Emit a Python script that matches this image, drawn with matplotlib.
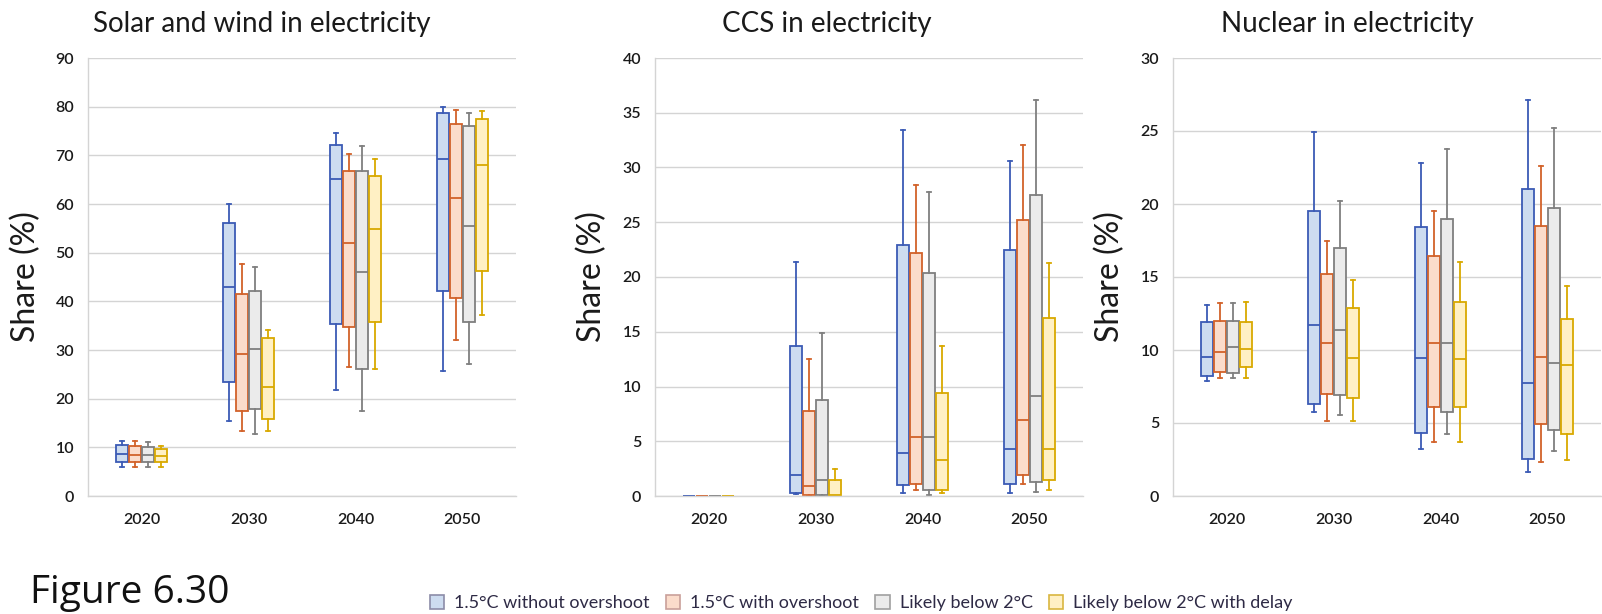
import numpy as np
import matplotlib
matplotlib.use('Agg')
import matplotlib.pyplot as plt
from matplotlib.patches import Patch

plt.rcParams['font.family'] = ['Lato', 'DejaVu Sans']

years = ['2020', '2030', '2040', '2050']
scenarios = ['1.5°C without overshoot', '1.5°C with overshoot',
             'Likely below 2°C', 'Likely below 2°C with delay']

# rows per year: [whisker low, q1, median, q3, whisker high]
solar_no_os = [[5.9, 6.9, 8.7, 10.4, 11.4], [15.4, 23.4, 43.0, 56.0, 60.1],
               [21.8, 35.4, 65.1, 72.2, 74.6], [25.6, 42.1, 69.3, 78.8, 80.0]]
solar_os = [[5.9, 7.0, 8.4, 10.2, 11.3], [13.4, 17.5, 29.2, 41.5, 47.7],
            [26.5, 34.8, 51.9, 66.7, 70.3], [32.1, 40.6, 61.3, 76.4, 79.4]]
solar_2c = [[5.9, 7.0, 8.4, 10.0, 11.0], [12.7, 17.9, 30.2, 42.1, 47.1],
            [17.5, 26.0, 46.1, 66.7, 72.0], [27.2, 35.7, 55.4, 76.1, 78.8]]
solar_delay = [[5.9, 6.9, 8.2, 9.6, 10.3], [13.4, 15.8, 22.4, 32.4, 34.1],
               [26.0, 35.7, 54.8, 65.8, 69.3], [37.1, 46.3, 68.0, 77.4, 79.2]]

ccs_no_os = [[0, 0, 0, 0, 0], [0.2, 0.25, 1.9, 13.7, 21.4],
             [0.25, 1.0, 3.9, 22.9, 33.4], [0.25, 1.1, 4.3, 22.5, 30.6]]
ccs_os = [[0, 0, 0, 0, 0], [0.0, 0.05, 0.9, 7.8, 12.5],
          [0.55, 1.1, 5.35, 22.2, 28.4], [1.1, 1.9, 6.9, 25.2, 32.1]]
ccs_2c = [[0, 0, 0, 0, 0], [0.0, 0.05, 1.45, 8.8, 14.9],
          [0.1, 0.55, 5.35, 20.4, 27.8], [0.4, 1.3, 9.1, 27.5, 36.2]]
ccs_delay = [[0, 0, 0, 0, 0], [0.0, 0.0, 0.05, 1.5, 2.5],
             [0.25, 0.55, 3.3, 9.4, 13.7], [0.55, 1.45, 4.3, 16.3, 21.3]]

nuc_no_os = [[7.9, 8.25, 9.5, 11.9, 13.1], [5.75, 6.3, 11.7, 19.5, 24.95],
             [3.25, 4.3, 9.45, 18.4, 22.8], [1.65, 2.55, 7.75, 21.0, 27.1]]
nuc_os = [[8.1, 8.5, 9.85, 12.0, 13.2], [5.15, 7.0, 10.5, 15.2, 17.5],
          [3.7, 6.1, 10.5, 16.45, 19.5], [2.3, 4.9, 9.5, 18.5, 22.6]]
nuc_2c = [[8.1, 8.45, 10.2, 12.0, 13.2], [5.55, 6.95, 11.35, 17.0, 20.2],
          [4.25, 5.75, 10.5, 19.0, 23.75], [3.05, 4.5, 9.1, 19.75, 25.2]]
nuc_delay = [[8.1, 8.85, 10.1, 11.9, 13.3], [5.15, 6.7, 9.45, 12.9, 14.8],
             [3.7, 6.1, 9.35, 13.3, 16.0], [2.5, 4.25, 9.0, 12.1, 14.4]]

panels = [
    ('Solar and wind in electricity', [solar_no_os, solar_os, solar_2c, solar_delay], 90, 10),
    ('CCS in electricity', [ccs_no_os, ccs_os, ccs_2c, ccs_delay], 40, 5),
    ('Nuclear in electricity', [nuc_no_os, nuc_os, nuc_2c, nuc_delay], 30, 5),
]

edge_colors = ['#3b5bb5', '#d2622a', '#7f7f7f', '#d9a900']
fill_colors = ['#cddcf0', '#fbdccb', '#ebebeb', '#fff0c4']
legend_edges = ['#8c8ca8', '#c9a09a', '#a0a0a0', '#d9b640']
offsets = [-0.18, -0.06, 0.06, 0.18]

W, H = 1602, 614
fig = plt.figure(figsize=(W / 100, H / 100), dpi=100)

ax_left = [88, 655, 1173]
title_x = [93, 722, 1221]
ylab_x = [26, 592, 1110]
top, bottom = 58, 496


def to_stats(rows):
    return [dict(whislo=r[0], q1=r[1], med=r[2], q3=r[3], whishi=r[4], fliers=[])
            for r in rows]


for i, (title, series, ymax, step) in enumerate(panels):
    ax = fig.add_axes([ax_left[i] / W, 1 - bottom / H, 428 / W, (bottom - top) / H])
    for s, rows in enumerate(series):
        ec = edge_colors[s]
        ax.bxp(to_stats(rows), positions=np.arange(4) + offsets[s], widths=0.115,
               patch_artist=True, showfliers=False, capwidths=0.04,
               boxprops=dict(facecolor=fill_colors[s], edgecolor=ec, linewidth=1.3),
               whiskerprops=dict(color=ec, linewidth=1.3),
               capprops=dict(color=ec, linewidth=1.3),
               medianprops=dict(color=ec, linewidth=1.3))
    ax.set_xlim(-0.5, 3.5)
    ax.set_ylim(0, ymax)
    ax.set_xticks(np.arange(4))
    ax.set_xticklabels(years)
    ax.set_yticks(np.arange(0, ymax + 1, step))
    ax.yaxis.grid(True, color='#d4d4d4', linewidth=1.0)
    ax.set_axisbelow(True)
    for side in ['top', 'right']:
        ax.spines[side].set_visible(False)
    for side in ['left', 'bottom']:
        ax.spines[side].set_color('#d4d4d4')
        ax.spines[side].set_linewidth(1.0)
    ax.tick_params(axis='both', length=0, labelsize=11.5, labelcolor='#1a1a1a')
    ax.tick_params(axis='y', pad=10)
    ax.tick_params(axis='x', pad=12)
    for lbl in ax.get_xticklabels() + ax.get_yticklabels():
        lbl.set_fontweight('semibold')
    fig.text(title_x[i] / W, 1 - 24 / H, title, fontsize=20, color='#1a1a1a',
             ha='left', va='center')
    fig.text(ylab_x[i] / W, 1 - 277 / H, 'Share (%)', fontsize=23, color='#1a1a1a',
             rotation=90, ha='center', va='center')

handles = [Patch(facecolor=fill_colors[k], edgecolor=legend_edges[k], linewidth=1.2)
           for k in range(4)]
fig.legend(handles, scenarios, loc='center', bbox_to_anchor=(861 / W, 1 - 603 / H),
           ncol=4, frameon=False, fontsize=13, handlelength=0.8, handleheight=0.8,
           handletextpad=0.55, columnspacing=0.9, labelcolor='#2e2a45')

fig.text(30 / W, 1 - 603 / H, 'Figure 6.30', fontsize=28, family='Open Sans',
         color='#111111', ha='left', va='baseline')

fig.savefig('out.png', dpi=100)
